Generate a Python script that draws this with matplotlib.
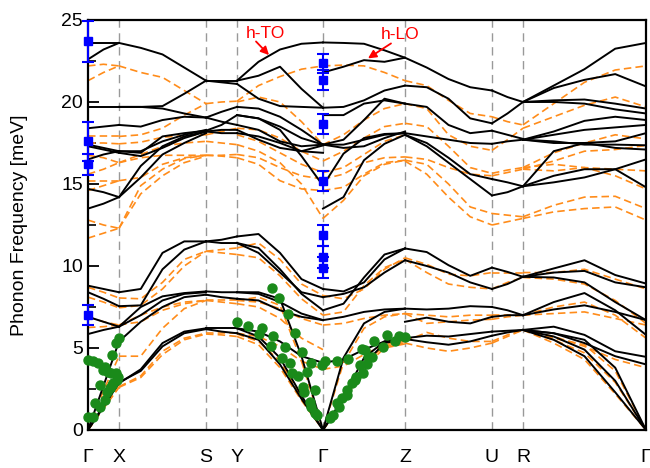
import numpy as np
import matplotlib.pyplot as plt

plt.rcParams['font.family'] = ['Liberation Sans', 'DejaVu Sans']

# high-symmetry points along the path
labels = ['Γ', 'X', 'S', 'Y', 'Γ', 'Z', 'U', 'R', 'Γ']
kpath = [0.0, 0.31, 1.18, 1.49, 2.35, 3.17, 4.04, 4.35, 5.58]

# bands per segment, each row = one branch (meV) sampled evenly along the segment
gx_black = [[23.6, 23.6, 23.6], [22.6, 23.2, 23.6], [19.7, 19.7, 19.7], [18.4, 18.5, 18.6],
            [17.4, 17.2, 17.0], [17.3, 17.1, 16.9], [16.5, 16.8, 17.0], [14.7, 14.5, 14.2],
            [13.5, 13.8, 14.2], [8.8, 8.6, 8.4], [8.4, 8.0, 7.55], [6.9, 6.6, 6.3],
            [5.85, 6.1, 6.3], [0.0, 2.7, 5.4], [0.0, 1.5, 2.85], [0.0, 1.4, 2.9]]
gx_orange = [[22.2, 22.3, 22.2], [21.3, 21.8, 22.2], [17.9, 17.9, 17.9], [17.5, 17.5, 17.45],
             [16.75, 16.6, 16.3], [15.6, 15.9, 16.3], [15.2, 15.2, 15.2], [14.6, 14.9, 15.2],
             [12.8, 12.5, 12.3], [11.7, 12.0, 12.3], [8.7, 8.4, 8.05], [8.1, 7.8, 7.45],
             [6.25, 6.3, 6.4], [6.9, 6.6, 6.4], [0.0, 2.4, 4.5], [0.0, 1.35, 2.64], [0.0, 1.3, 2.6]]

xs_black = [[23.6, 23.3, 22.9, 22.1, 21.3], [19.7, 19.7, 19.75, 20.5, 21.3],
            [19.7, 19.7, 19.6, 19.3, 19.05], [18.6, 18.5, 18.9, 19.1, 19.05],
            [17.0, 16.9, 17.9, 18.1, 18.25], [16.9, 16.7, 17.2, 17.8, 18.2],
            [17.0, 17.0, 17.6, 18.0, 18.3], [14.2, 16.1, 17.3, 17.9, 18.2],
            [14.2, 15.4, 16.8, 17.5, 18.1], [8.4, 8.6, 10.8, 11.5, 11.5],
            [7.55, 7.6, 9.8, 11.0, 11.5], [6.3, 7.5, 8.15, 8.35, 8.45],
            [6.3, 7.0, 7.9, 8.3, 8.4], [5.4, 6.6, 7.5, 8.1, 8.25],
            [2.85, 3.7, 5.3, 6.0, 6.2], [2.9, 3.6, 5.1, 5.9, 6.15]]
xs_orange = [[22.2, 21.8, 21.5, 20.7, 19.9], [17.9, 18.0, 18.4, 19.2, 19.9],
             [17.45, 17.55, 17.85, 17.95, 18.0], [16.3, 16.6, 16.75, 16.75, 16.75],
             [16.3, 16.8, 17.3, 17.5, 17.6], [15.2, 15.4, 16.2, 16.6, 16.75],
             [12.3, 14.9, 15.9, 16.55, 16.75], [12.3, 14.4, 15.5, 16.3, 16.7],
             [8.05, 8.0, 9.0, 10.4, 10.9], [7.45, 7.6, 8.6, 10.0, 10.9],
             [6.4, 7.0, 7.5, 7.8, 7.9], [6.4, 6.6, 7.3, 7.7, 7.9],
             [4.5, 4.5, 6.2, 7.4, 7.9], [2.64, 3.3, 4.8, 5.6, 5.9], [2.6, 3.2, 4.6, 5.5, 5.85]]

sy_black = [[21.3, 21.3, 21.3], [21.3, 21.2, 21.1], [19.05, 19.4, 19.7], [19.05, 18.8, 18.6],
            [18.25, 18.6, 19.2], [18.2, 18.3, 18.3], [18.2, 18.1, 18.1], [11.5, 11.6, 11.8],
            [11.5, 11.4, 11.4], [8.45, 8.4, 8.4], [8.25, 8.1, 8.0], [6.2, 6.2, 6.2],
            [6.15, 6.0, 5.9]]
sy_orange = [[19.9, 20.0, 20.05], [18.0, 18.2, 18.4], [17.6, 17.5, 17.4], [16.75, 16.75, 16.8],
             [16.75, 16.7, 16.6], [10.9, 11.0, 11.1], [10.9, 10.8, 10.7], [7.9, 7.9, 7.9],
             [7.9, 7.8, 7.7], [5.9, 5.9, 5.9], [5.85, 5.8, 5.7]]

yg_black = [[21.3, 22.45, 23.2, 23.55, 23.63], [21.3, 21.6, 22.15, 20.8, 19.65],
            [21.1, 20.2, 19.75, 19.7, 19.65], [19.7, 19.6, 19.1, 18.3, 17.4],
            [19.2, 19.0, 18.5, 17.8, 17.4], [19.2, 19.0, 18.3, 16.7, 14.9],
            [18.6, 18.3, 17.6, 17.3, 17.4], [18.3, 17.7, 17.2, 17.0, 17.35],
            [18.1, 17.9, 17.5, 17.0, 16.9], [11.8, 11.95, 10.8, 9.2, 8.6],
            [11.4, 11.1, 9.8, 8.3, 7.3], [11.4, 10.8, 9.6, 8.4, 8.1],
            [8.4, 8.4, 8.0, 4.5, 0.0], [8.4, 8.3, 7.8, 7.1, 6.7],
            [8.0, 7.9, 7.3, 6.9, 6.7], [6.2, 6.0, 5.4, 4.5, 4.1],
            [6.2, 5.7, 4.4, 2.1, 0.0], [5.9, 5.5, 4.0, 1.9, 0.0]]
yg_orange = [[20.05, 21.0, 21.55, 22.0, 22.2], [20.0, 20.3, 20.0, 18.8, 17.4],
             [18.4, 18.3, 17.8, 17.0, 16.4], [18.0, 17.6, 16.9, 16.2, 15.7],
             [17.4, 17.0, 16.3, 15.0, 12.9], [16.8, 16.6, 16.0, 15.5, 15.3],
             [16.6, 16.2, 15.2, 14.7, 14.6], [11.1, 11.4, 10.4, 8.9, 8.2],
             [10.7, 10.5, 9.4, 8.0, 7.0], [7.9, 7.8, 7.4, 6.8, 6.4],
             [7.9, 8.1, 7.6, 4.2, 0.0], [7.7, 7.5, 6.8, 5.6, 4.9],
             [5.9, 5.7, 5.1, 4.2, 3.7], [5.85, 5.4, 4.2, 2.0, 0.0], [5.7, 5.2, 3.8, 1.8, 0.0]]

gz_black = [[23.63, 23.6, 23.55, 23.15, 22.7], [21.8, 22.15, 22.55, 22.45, 22.7],
            [19.65, 19.7, 20.1, 20.7, 21.0], [19.2, 19.2, 19.9, 20.1, 19.9],
            [17.4, 17.7, 18.9, 20.2, 19.9], [17.4, 17.4, 17.7, 18.0, 18.1],
            [17.4, 17.2, 17.3, 17.8, 18.2], [14.9, 16.85, 17.8, 18.05, 18.1],
            [13.5, 14.2, 16.45, 17.45, 18.0], [8.6, 8.45, 9.0, 10.4, 11.07],
            [7.3, 7.7, 9.3, 10.7, 11.07], [8.1, 8.3, 8.7, 9.6, 10.35],
            [6.7, 6.9, 7.2, 7.35, 7.4], [4.1, 4.3, 4.9, 5.4, 5.6],
            [0.0, 4.4, 6.5, 7.2, 7.4], [0.0, 2.0, 4.4, 5.4, 5.6], [0.0, 1.8, 4.0, 5.3, 5.55]]
gz_orange = [[22.2, 22.25, 22.2, 21.8, 21.3], [17.4, 18.0, 18.9, 19.6, 19.9],
             [16.4, 17.0, 17.8, 18.5, 18.7], [15.7, 16.0, 16.8, 17.6, 18.0],
             [15.3, 15.6, 16.3, 16.6, 16.65], [14.6, 14.8, 15.6, 16.3, 16.45],
             [12.9, 14.0, 15.5, 16.2, 16.45], [8.2, 8.0, 8.6, 9.8, 10.5],
             [7.0, 7.2, 8.8, 9.9, 10.4], [6.4, 6.5, 6.8, 7.0, 7.1],
             [3.7, 3.9, 4.6, 5.2, 5.4], [0.0, 4.1, 6.2, 6.9, 7.1],
             [0.0, 1.8, 4.1, 5.1, 5.3], [0.0, 1.7, 3.8, 5.0, 5.25]]

zu_black = [[22.7, 22.1, 21.4, 20.9, 20.7], [21.0, 20.9, 20.2, 19.0, 18.7],
            [19.9, 19.7, 18.6, 18.1, 18.25], [18.1, 17.9, 17.7, 17.5, 17.45],
            [18.0, 17.3, 16.3, 15.3, 14.3], [18.0, 17.5, 16.6, 15.6, 15.3],
            [11.07, 10.85, 10.05, 9.4, 9.9], [10.35, 10.0, 9.6, 9.0, 8.6],
            [7.4, 7.35, 7.4, 7.55, 7.5], [6.6, 6.85, 6.6, 6.5, 6.9],
            [5.6, 5.75, 5.7, 5.85, 6.0], [5.55, 5.35, 5.2, 5.4, 5.75]]
zu_orange = [[21.3, 21.0, 20.1, 19.3, 19.1], [19.9, 19.6, 18.0, 17.3, 17.05],
             [18.7, 18.5, 17.3, 16.0, 15.65], [16.65, 16.5, 16.0, 15.6, 15.5],
             [16.45, 16.2, 15.0, 13.6, 13.2], [16.4, 15.6, 14.2, 13.0, 12.5],
             [10.5, 10.1, 9.5, 9.4, 9.6], [10.4, 9.6, 8.9, 8.7, 8.6],
             [7.1, 6.5, 6.6, 6.7, 6.75], [7.1, 7.0, 6.9, 7.0, 7.0],
             [5.4, 5.95, 5.6, 5.4, 5.4], [5.3, 5.0, 4.8, 5.0, 5.3]]

ur_black = [[20.7, 20.3, 20.0], [18.7, 19.3, 20.0], [18.25, 18.0, 17.75], [17.45, 17.6, 17.7],
            [14.3, 14.5, 14.86], [15.3, 15.1, 14.86], [9.9, 9.64, 9.34], [8.6, 8.9, 9.34],
            [7.5, 7.3, 7.0], [6.9, 7.0, 7.0], [6.0, 6.05, 6.1], [5.75, 5.95, 6.1]]
ur_orange = [[19.1, 18.8, 18.6], [17.05, 17.7, 18.4], [15.65, 15.85, 16.0], [15.5, 15.7, 15.9],
             [13.2, 13.1, 13.0], [12.5, 12.7, 12.9], [9.6, 9.6, 9.6], [8.6, 9.0, 9.3],
             [6.75, 6.9, 7.0], [7.0, 7.0, 7.0], [5.4, 5.8, 6.1], [5.3, 5.7, 6.1]]

rg_black = [[20.0, 21.0, 22.0, 23.25, 23.6], [20.0, 20.85, 21.35, 21.7, 20.95],
            [20.0, 20.1, 20.15, 19.9, 19.6], [20.0, 20.0, 19.9, 19.55, 19.3],
            [17.7, 18.2, 18.85, 19.1, 18.9], [17.7, 18.0, 18.3, 18.45, 18.6],
            [17.7, 17.6, 17.4, 17.4, 17.36], [17.7, 17.5, 17.5, 17.2, 17.1],
            [14.86, 17.0, 17.5, 17.6, 18.1], [14.86, 15.5, 15.9, 15.9, 14.8],
            [14.86, 15.1, 15.4, 15.9, 16.5], [9.34, 9.85, 10.35, 9.45, 8.93],
            [9.34, 9.6, 9.7, 9.0, 8.7], [9.34, 9.3, 9.0, 7.8, 6.7],
            [7.0, 7.8, 8.35, 7.3, 5.8], [7.0, 7.35, 7.6, 7.2, 6.7],
            [6.1, 6.3, 5.8, 4.8, 4.46], [6.1, 5.9, 5.3, 4.5, 4.0],
            [6.1, 5.9, 5.5, 3.8, 0.0], [6.1, 5.7, 4.9, 3.0, 0.0], [6.1, 5.5, 4.5, 2.3, 0.0]]
rg_orange = [[18.6, 19.9, 21.2, 21.95, 22.2], [18.4, 19.1, 19.8, 20.3, 19.7],
             [16.0, 16.9, 17.5, 18.0, 17.75], [15.9, 16.4, 17.0, 17.1, 17.35],
             [16.0, 16.2, 16.0, 15.9, 15.8], [15.9, 15.8, 16.0, 15.5, 14.7],
             [13.0, 13.7, 14.2, 14.25, 13.5], [12.9, 13.3, 13.5, 13.6, 12.8],
             [9.6, 9.6, 9.8, 9.2, 8.6], [9.3, 9.2, 8.9, 7.9, 6.5],
             [7.0, 7.5, 7.8, 7.0, 5.6], [7.0, 7.1, 7.2, 6.8, 6.4],
             [6.1, 5.7, 5.1, 4.3, 3.8], [6.1, 5.5, 4.7, 2.9, 0.0],
             [6.1, 5.3, 4.3, 2.2, 0.0], [6.1, 5.6, 5.2, 3.6, 0.0]]

# measured acoustic dispersion (k, meV)
exp_k = [0.00, 0.05, 0.07, 0.12, 0.12, 0.17, 0.19, 0.22, 0.24, 0.25, 0.29, 0.30, 0.28, 0.23,
         0.20, 0.15, 0.17, 0.10, 0.05, 0.00, 0.24, 0.28, 0.31,
         1.49, 1.60, 1.71, 1.74, 1.85, 1.83, 1.97, 1.94, 2.02, 2.04, 2.10, 2.14, 2.19, 2.15,
         2.16, 2.27, 2.22, 2.23, 2.27, 2.29, 1.84, 1.91, 2.00, 2.07, 2.23, 2.34, 2.37, 2.49, 2.60,
         2.42, 2.45, 2.49, 2.51, 2.54, 2.59, 2.59, 2.64, 2.67, 2.68, 2.72, 2.75, 2.79, 2.80,
         2.84, 2.86, 2.95, 2.99, 3.07, 3.11, 3.17, 2.74, 2.77]
exp_E = [0.81, 0.81, 1.62, 1.42, 2.74, 1.83, 2.33, 2.54, 2.74, 2.84, 3.05, 3.25, 3.45, 3.45,
         3.55, 3.65, 3.85, 4.06, 4.22, 4.28, 4.57, 5.28, 5.58,
         6.60, 6.35, 5.85, 6.19, 5.72, 5.12, 5.07, 4.37, 4.10, 3.45, 3.31, 4.77, 3.55, 2.64,
         2.33, 2.44, 1.72, 1.42, 1.02, 0.91, 8.63, 8.02, 7.06, 5.93, 4.10, 3.96, 4.22, 4.22, 4.32,
         0.71, 0.91, 1.62, 1.42, 1.93, 2.44, 2.13, 2.88, 3.05, 3.25, 3.96, 3.49, 4.02, 4.46,
         4.46, 5.44, 5.07, 5.79, 5.44, 5.72, 5.68, 4.91, 4.87]

# zone-centre optical modes with error bars
gam_k = [0.0, 0.0, 0.0, 0.0, 2.35, 2.35, 2.35, 2.35, 2.35, 2.35, 2.35]
gam_E = [23.7, 17.6, 16.2, 7.0, 22.35, 21.35, 18.65, 15.2, 11.87, 10.55, 9.9]
gam_err = [1.25, 1.2, 0.65, 0.6, 0.6, 0.6, 0.6, 0.6, 0.65, 0.65, 0.65]

segments = [(0, gx_black, gx_orange), (1, xs_black, xs_orange), (2, sy_black, sy_orange),
            (3, yg_black, yg_orange), (4, gz_black, gz_orange), (5, zu_black, zu_orange),
            (6, ur_black, ur_orange), (7, rg_black, rg_orange)]

fig = plt.figure(figsize=(6.5, 4.68), dpi=100)
ax = fig.add_axes([0.1354, 0.0812, 0.8584, 0.8761])

for k in kpath[1:-1]:
    ax.axvline(k, color='#999999', lw=1.0, ls=(0, (6, 4)), zorder=1)

for i, black, orange in segments:
    for band in orange:
        x = np.linspace(kpath[i], kpath[i + 1], len(band))
        ax.plot(x, band, color='#ff8c1a', lw=1.2, ls=(0, (4.5, 2.5)), zorder=2)
    for band in black:
        x = np.linspace(kpath[i], kpath[i + 1], len(band))
        ax.plot(x, band, color='black', lw=1.4, zorder=3)

ax.plot(exp_k, exp_E, 'o', color='#1a8a1a', ms=6.5, mec='#1a8a1a', zorder=4, clip_on=False)
ax.errorbar(gam_k, gam_E, yerr=gam_err, fmt='s', color='#0000ff', ms=5.5, lw=1.5,
            capsize=4, capthick=1.5, zorder=5, clip_on=False)

# mode labels with arrows onto the branches
arrow = dict(arrowstyle='-|>', color='red', lw=1.3, mutation_scale=12, shrinkA=0, shrinkB=0)
ax.text(1.77, 24.18, 'h-TO', color='red', fontsize=12.5, ha='center', va='center')
ax.annotate('', xy=(1.81, 22.86), xytext=(1.68, 23.69), arrowprops=arrow)
ax.text(3.12, 24.12, 'h-LO', color='red', fontsize=12.5, ha='center', va='center')
ax.annotate('', xy=(2.80, 22.66), xytext=(3.03, 23.57), arrowprops=arrow)

ax.set_xlim(kpath[0], kpath[-1])
ax.set_ylim(0, 25)
ax.set_xticks(kpath)
ax.set_xticklabels(labels, fontsize=14)
ax.tick_params(axis='x', length=0, pad=14)
ax.set_yticks([0, 5, 10, 15, 20, 25])
ax.set_yticks(np.arange(0, 25.1, 2.5), minor=True)
ax.tick_params(axis='y', which='major', direction='in', length=8, width=1.3, labelsize=14)
ax.tick_params(axis='y', which='minor', direction='in', length=6, width=1.2)
ax.set_ylabel('Phonon Frequency [meV]', fontsize=14, labelpad=24)
for s in ax.spines.values():
    s.set_linewidth(1.6)

fig.savefig('out.png', dpi=100)
